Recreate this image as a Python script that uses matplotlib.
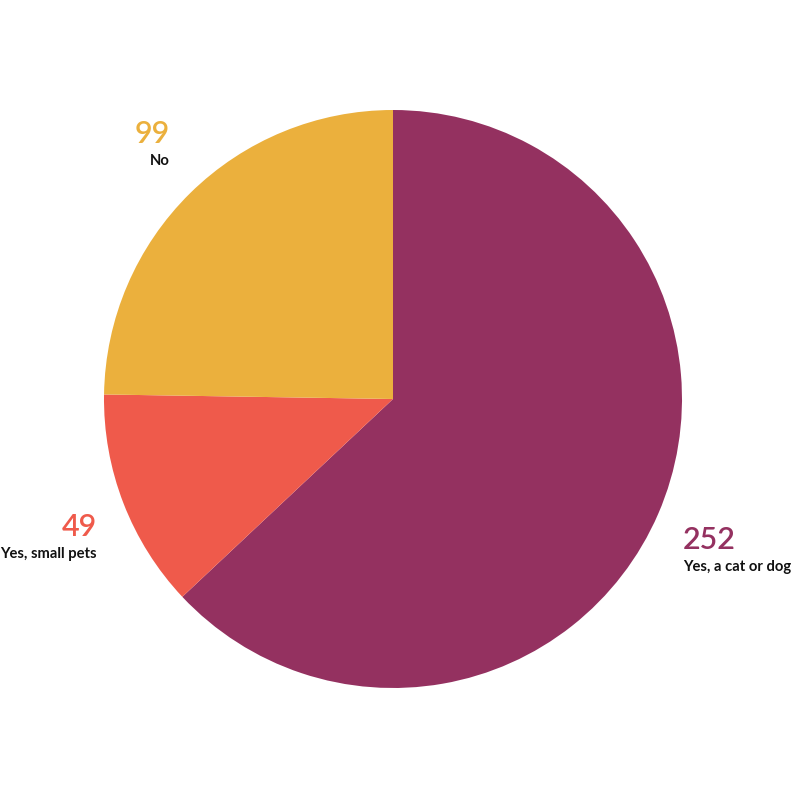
import matplotlib.pyplot as plt

labels = ['Yes, a cat or dog', 'Yes, small pets', 'No']
values = [252, 49, 99]
colors = ['#943160', '#EF5A4B', '#EBB03D']

W, H = 800, 801
fig = plt.figure(figsize=(8, 8.01), dpi=100)
ax = fig.add_axes([0, 0, 1, 1])

ax.pie(values, colors=colors, startangle=90, counterclock=False,
       center=(393, H - 399), radius=289, frame=True,
       wedgeprops={'linewidth': 0})
ax.set_xlim(0, W)
ax.set_ylim(0, H)
ax.set_aspect('equal')
ax.axis('off')

# label anchors (pixel coords from the top-left), alignment
spots = {
    'Yes, a cat or dog': (683, 540, 'left'),
    'Yes, small pets': (97, 527, 'right'),
    'No': (170, 134, 'right'),
}
fam = ['Lato', 'DejaVu Sans']
for lab, val, col in zip(labels, values, colors):
    x, y, ha = spots[lab]
    ax.text(x, H - y, str(val), color=col, ha=ha, va='center',
            fontsize=22, family=fam, fontweight='semibold')
    ax.text(x, H - y - 27, lab, color='#111111', ha=ha, va='center',
            fontsize=10.6, family=fam, fontweight='bold')

fig.savefig('out.png', dpi=100, facecolor='white')
